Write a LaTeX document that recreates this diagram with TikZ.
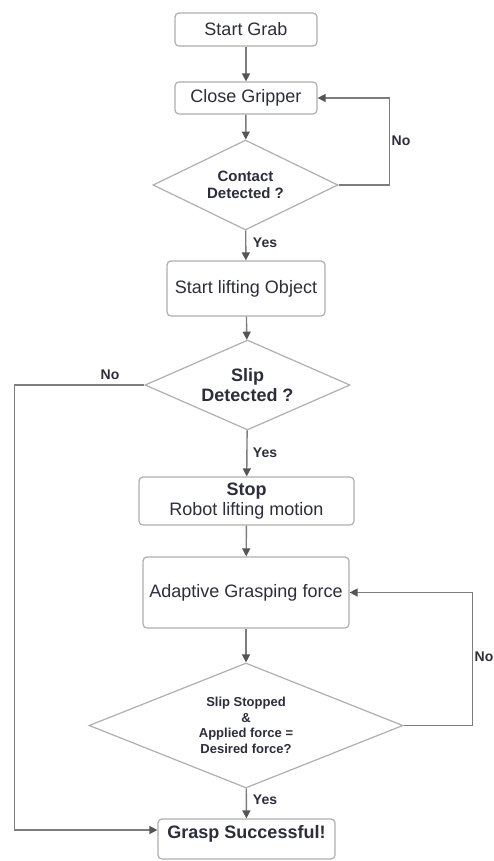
\documentclass[tikz,border=0pt]{standalone}
\usepackage{fontspec}
\setmainfont{Liberation Sans}
\usetikzlibrary{shapes.geometric,arrows.meta}
\definecolor{inkc}{RGB}{45,45,60}
\definecolor{edgec}{RGB}{175,175,175}
\definecolor{linec}{RGB}{125,125,125}
\definecolor{tipc}{RGB}{85,85,85}

\begin{document}
\begin{tikzpicture}[x=1pt, y=-1pt,
        stepbox/.style={draw=edgec, line width=1.2pt, rounded corners=4pt, fill=white, text=inkc,
            inner sep=0pt, align=center, font=\fontsize{18}{20}\selectfont},
        decision/.style={diamond, draw=edgec, line width=1.2pt, fill=white, text=inkc,
            inner sep=0pt, align=center},
        flow/.style={draw=linec, line width=1.4pt, -{Triangle[length=8pt, width=8pt, color=tipc]}},
        answer/.style={text=inkc, font=\fontsize{14}{16}\selectfont\bfseries}]
        \useasboundingbox (0,0) rectangle (494,861);

        % Các bước kẹp
        \node[stepbox, minimum width=142pt, minimum height=33pt] (grab) at (246,29.5) {Start Grab};
        \node[stepbox, minimum width=142pt, minimum height=32pt] (close) at (246,98) {Close Gripper};
        \node[decision, aspect=2.05, minimum width=185pt, minimum height=90pt,
            font=\fontsize{15}{17}\selectfont\bfseries] (contact) at (245.5,185) {Contact\\Detected ?};
        \node[stepbox, minimum width=158pt, minimum height=55pt] (lift) at (246,288.5) {Start lifting Object};
        \node[decision, aspect=2.28, minimum width=205pt, minimum height=90pt,
            font=\fontsize{18}{20}\selectfont\bfseries] (slip) at (247.5,385) {Slip\\Detected ?};
        \node[stepbox, minimum width=215pt, minimum height=48pt] (stop) at (246.5,501) {\textbf{Stop}\\Robot lifting motion};
        \node[stepbox, minimum width=206pt, minimum height=71pt] (adapt) at (246,592.5) {Adaptive Grasping force};
        \node[decision, aspect=2.5, minimum width=314pt, minimum height=125pt,
            font=\fontsize{13}{15.5}\selectfont\bfseries] (check) at (246,725.5)
            {Slip Stopped\\\&\\Applied force =\\Desired force?};
        \node[stepbox, minimum width=177pt, minimum height=40pt, text depth=14pt,
            font=\fontsize{18}{20}\selectfont\bfseries] (grasp) at (246.5,839) {Grasp Successful!};

        % Mũi tên chính
        \draw[flow] (grab) -- (close);
        \draw[flow] (close) -- (contact);
        \draw[flow] (contact) -- (lift);
        \draw[flow] (lift) -- (slip);
        \draw[flow] (slip) -- (stop);
        \draw[flow] (stop) -- (adapt);
        \draw[flow] (adapt) -- (check);
        \draw[flow] (check) -- (grasp);

        % Vòng lặp "No"
        \draw[flow] (contact.east) -- ++(51,0) |- (close.east);
        \draw[flow] (slip.west) -- ++(-130,0) |- ([yshift=9pt]grasp.west);
        \draw[flow] (check.east) -- ++(69,0) |- (adapt.east);

        % Nhãn
        \node[answer] (yes1) at (265,243) {Yes};
        \node[answer] (yes2) at (265,453) {Yes};
        \node[answer] (yes3) at (265,800) {Yes};
        \node[answer] (no1) at (401,141) {No};
        \node[answer] (no2) at (110,375) {No};
        \node[answer, anchor=east, inner sep=0.5pt] (no3) at (494,657) {No};
    \end{tikzpicture}
\end{document}
